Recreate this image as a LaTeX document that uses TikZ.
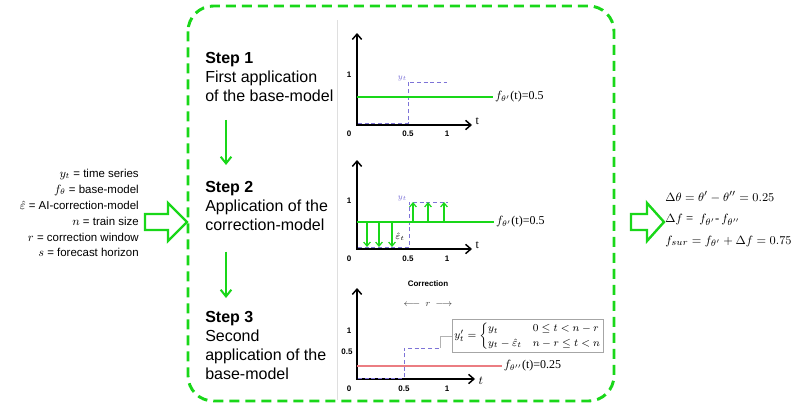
\documentclass[tikz,border=0pt]{standalone}
\usepackage{amsmath,amssymb}
\usepackage{fontspec}
\setmainfont{Liberation Serif}
\setsansfont{Liberation Sans}
\usetikzlibrary{arrows.meta, positioning, calc}

\definecolor{stepgreen}{RGB}{25,215,25}
\definecolor{ytpurple}{RGB}{125,115,215}
\definecolor{reducedred}{RGB}{235,125,130}

\begin{document}
\begin{tikzpicture}[
    x=0.75pt, y=-0.75pt,
    stepbox/.style={anchor=north west, inner sep=0pt, align=left, font=\sffamily\fontsize{12}{14.25}\selectfont},
    legend/.style={anchor=north east, inner sep=0pt, align=right, font=\sffamily\fontsize{8.6}{11.9}\selectfont},
    regionbox/.style={draw=stepgreen, line width=2.2pt, dash pattern=on 7.5pt off 4.5pt, rounded corners=19pt},
    hollowarrow/.style={draw=stepgreen, fill=white, line width=1.8pt, line join=miter},
    steparrow/.style={draw=stepgreen, line width=1.5pt, -{Straight Barb[length=5pt, width=8pt]}},
    axis/.style={black, line width=1.1pt, {Straight Barb[length=4pt, width=7pt]}-{Straight Barb[length=4pt, width=7pt]}},
    ticklabel/.style={inner sep=0pt, font=\sffamily\bfseries\fontsize{6}{7}\selectfont},
    fitline/.style={stepgreen, line width=1.3pt},
    seriesline/.style={ytpurple, line width=0.6pt, dash pattern=on 3pt off 2pt},
    funclabel/.style={anchor=west, inner sep=1pt, font=\fontsize{9}{10}\selectfont},
    residual/.style={stepgreen, line width=0.9pt, -{Straight Barb[length=3pt, width=5pt]}},
    eqbox/.style={draw=gray!70, fill=white, line width=0.6pt, minimum width=113pt, minimum height=24pt, inner sep=1.5pt, font=\fontsize{8.2}{9}\selectfont},
]
\useasboundingbox (0,0) rectangle (796,407);

% Region around the three steps
\draw[regionbox] (188,6) rectangle (614,401);
\draw[gray!25, line width=0.6pt] (337,20) -- (337,400);

% Symbols on the left
\node[legend] (symbols) at (139,169) {%
    $y_t$ = time series\\
    $f_\theta$ = base-model\\
    $\hat{\varepsilon}$ = AI-correction-model\\
    $n$ = train size\\
    $r$ = correction window\\
    $s$ = forecast horizon};

% Input and output arrows
\draw[hollowarrow] (145,214) -- (168,214) -- (168,203) -- (187,222) -- (168,241) -- (168,230) -- (145,230) -- cycle;
\draw[hollowarrow] (631,214) -- (647,214) -- (647,203) -- (664,222) -- (647,241) -- (647,230) -- (631,230) -- cycle;

% Steps
\node[stepbox] (step1) at (205,52) {\textbf{Step 1}\\First application\\of the base-model};
\node[stepbox] (step2) at (205,181) {\textbf{Step 2}\\Application of the\\correction-model};
\node[stepbox] (step3) at (205,311) {\textbf{Step 3}\\Second\\application of the\\base-model};

\coordinate (arrowx) at (226,0);
\draw[steparrow, shorten <=13.5pt, shorten >=12pt] (step1.south -| arrowx) -- (step2.north -| arrowx);
\draw[steparrow, shorten <=15.5pt, shorten >=9.75pt] (step2.south -| arrowx) -- (step3.north -| arrowx);

% Plot 1: first fit
\begin{scope}[shift={(357,125)}]
\draw[axis] (0,-92) -- (0,0) -- (115,0);
\node[funclabel] (t1) at (117,-4) {t};
\node[ticklabel] (zero1) at (-8,9) {0};
\node[ticklabel] (half1) at (51,9) {0.5};
\node[ticklabel] (one1) at (90,9) {1};
\node[ticklabel] (yone1) at (-8,-50) {1};
\draw[seriesline] (1,-2) -- (51,-2) -- (51,-43) -- (90,-43);
\node[anchor=south east, inner sep=0.5pt, text=ytpurple, font=\fontsize{6}{7}\selectfont] (yt1) at (51,-43) {$y_t$};
\draw[fitline] (0,-28) -- (136,-28) node[funclabel, text=black] (fit1) {$f_{\theta'}$(t)=0.5};
\end{scope}

% Plot 2: residuals
\begin{scope}[shift={(357,249)}]
\draw[axis] (0,-89) -- (0,0) -- (115,0);
\node[funclabel] (t2) at (117,-4) {t};
\node[ticklabel] (zero2) at (-8,10) {0};
\node[ticklabel] (half2) at (51,10) {0.5};
\node[ticklabel] (one2) at (90,10) {1};
\node[ticklabel] (yone2) at (-8,-48) {1};
\draw[seriesline] (1,-2) -- (52,-2) -- (52,-47) -- (91,-47);
\node[anchor=south east, inner sep=0.5pt, text=ytpurple, font=\fontsize{6}{7}\selectfont] (yt2) at (51,-47) {$y_t$};
\draw[fitline] (0,-27) -- (137,-27) node[funclabel, text=black] (fit2) {$f_{\theta'}$(t)=0.5};
\foreach \x in {10,22,35} \draw[residual] (\x,-27) -- (\x,-2);
\foreach \x in {56,71,87} \draw[residual] (\x,-27) -- (\x,-47);
\node[inner sep=0pt, font=\fontsize{7}{8}\selectfont] (eps2) at (43,-12) {$\hat{\varepsilon}_t$};
\end{scope}

% Plot 3: refit on corrected series
\begin{scope}[shift={(357,379)}]
\draw[axis] (0,-91) -- (0,0) -- (118,0);
\node[funclabel] (t3) at (120,2) {$t$};
\node[ticklabel] (zero3) at (-8,10) {0};
\node[ticklabel] (half3) at (47,10) {0.5};
\node[ticklabel] (one3) at (90,10) {1};
\node[ticklabel] (yone3) at (-8,-48) {1};
\node[ticklabel] (yhalf3) at (-10,-27) {0.5};
\node[inner sep=0pt, font=\sffamily\bfseries\fontsize{6}{7}\selectfont] (corrlabel) at (71,-95) {Correction};
\node[inner sep=0pt, text=black!75, font=\fontsize{7}{8}\selectfont] (window) at (71,-75) {$\longleftarrow\, r\, \longrightarrow$};
\draw[seriesline] (1,-1) -- (47,-1) -- (47,-31) -- (83,-31);
\coordinate (jump) at (83,-31);
\draw[reducedred, line width=0.8pt] (0,-13) -- (145,-13) node[funclabel, text=black] (fit3) {$f_{\theta''}$(t)=0.25};
\end{scope}

% Corrected series
\node[eqbox] (corrbox) at (528,336) {\renewcommand{\arraystretch}{0.95}%
    $y'_t = \begin{cases} y_t & 0 \le t < n-r\\ y_t - \hat{\varepsilon}_t & n-r \le t < n \end{cases}$};
\draw[gray!60, line width=0.6pt] (corrbox.west) -| (jump);

% Result on the right
\node[anchor=north west, inner sep=0pt, align=left, font=\fontsize{9.5}{16}\selectfont] (deltas) at (665,191) {%
    $\Delta\theta = \theta' - \theta'' = 0.25$\\
    $\Delta f$ = \ $f_{\theta'}$-\,$f_{\theta''}$\\
    $f_{sur} = f_{\theta'} + \Delta f = 0.75$};

\end{tikzpicture}
\end{document}
